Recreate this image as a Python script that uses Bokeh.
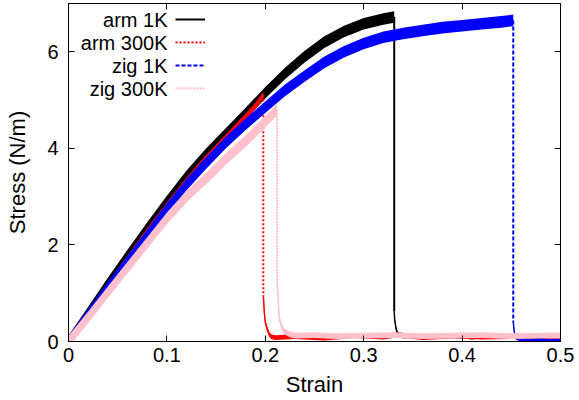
from bokeh.plotting import figure
from bokeh.models import (Range1d, LinearAxis, FixedTicker, CustomJSTickFormatter,
                          Legend, LegendItem, Label)
from bokeh.embed import file_html
from bokeh.resources import INLINE

# ---------------- data ----------------
x_ticks = [0, 0.1, 0.2, 0.3, 0.4, 0.5]
y_ticks = [0, 2, 4, 6]

# arm 1K
arm1k_load_strain = [0.0, 0.01, 0.02, 0.04, 0.06, 0.08, 0.10, 0.12, 0.14, 0.16, 0.18,
                     0.20, 0.22, 0.24, 0.26, 0.28, 0.30, 0.32, 0.331]
arm1k_load_stress = [0.0, 0.3, 0.6, 1.2, 1.78, 2.35, 2.9, 3.42, 3.88, 4.3, 4.72,
                     5.15, 5.55, 5.9, 6.2, 6.42, 6.58, 6.68, 6.72]
arm1k_tail_strain = [0.331, 0.3315, 0.333, 0.335, 0.34, 0.35, 0.36, 0.37, 0.38, 0.39, 0.40,
                     0.41, 0.42, 0.43, 0.44, 0.45, 0.46, 0.47, 0.48, 0.49, 0.50]
arm1k_tail_stress = [0.62, 0.45, 0.25, 0.15, 0.10, 0.12, 0.08, 0.11, 0.09, 0.12, 0.10,
                     0.08, 0.11, 0.10, 0.09, 0.12, 0.08, 0.10, 0.11, 0.09, 0.10]

# arm 300K
arm300_load_strain = [0.0, 0.02, 0.04, 0.06, 0.08, 0.10, 0.12, 0.14, 0.16, 0.18, 0.19, 0.198]
arm300_load_stress = [0.0, 0.58, 1.16, 1.72, 2.28, 2.82, 3.33, 3.80, 4.22, 4.65, 4.88, 5.10]
arm300_tail_strain = [0.198, 0.199, 0.200, 0.202, 0.204, 0.206, 0.21, 0.23, 0.26, 0.29,
                      0.32, 0.335, 0.36, 0.39, 0.42, 0.45, 0.48, 0.50]
arm300_tail_stress = [0.95, 0.60, 0.40, 0.25, 0.15, 0.10, 0.08, 0.10, 0.07, 0.12,
                      0.09, 0.14, 0.08, 0.11, 0.09, 0.10, 0.08, 0.09]

# zig 1K
zig1k_load_strain = [0.0, 0.02, 0.04, 0.06, 0.08, 0.10, 0.12, 0.14, 0.16, 0.18, 0.20, 0.22,
                     0.24, 0.26, 0.28, 0.30, 0.32, 0.34, 0.36, 0.38, 0.40, 0.42, 0.44, 0.452]
zig1k_load_stress = [0.0, 0.56, 1.12, 1.66, 2.2, 2.75, 3.25, 3.7, 4.12, 4.5, 4.85, 5.2,
                     5.5, 5.78, 6.0, 6.17, 6.3, 6.38, 6.44, 6.5, 6.54, 6.58, 6.62, 6.65]
zig1k_tail_strain = [0.452, 0.453, 0.455, 0.46, 0.47, 0.48, 0.49, 0.50]
zig1k_tail_stress = [0.40, 0.20, 0.06, 0.03, 0.02, 0.04, 0.02, 0.03]

# zig 300K
zig300_load_strain = [0.0, 0.02, 0.04, 0.06, 0.08, 0.10, 0.12, 0.14, 0.16, 0.18, 0.20, 0.212]
zig300_load_stress = [0.0, 0.5, 1.02, 1.53, 2.04, 2.55, 3.0, 3.38, 3.78, 4.15, 4.55, 4.80]
zig300_tail_strain = [0.212, 0.213, 0.214, 0.216, 0.218, 0.22, 0.225, 0.23, 0.25, 0.27,
                      0.30, 0.33, 0.36, 0.39, 0.42, 0.45, 0.48, 0.50]
zig300_tail_stress = [1.25, 0.90, 0.50, 0.35, 0.25, 0.20, 0.15, 0.12, 0.13, 0.11,
                      0.12, 0.13, 0.11, 0.12, 0.13, 0.11, 0.12, 0.12]

# half-width of the thermal-noise band of each series (stress units)
noise_load = [0.12, 0.07, 0.12, 0.12]
noise_tail = [0.04, 0.05, 0.03, 0.06]

series_names = ["arm 1K", "arm 300K", "zig 1K", "zig 300K"]
series_colors = ["black", "red", "blue", "pink"]
series_dashes = ["solid", "2 2", "4 2", "2 1"]

series_data = [
    (arm1k_load_strain, arm1k_load_stress, arm1k_tail_strain, arm1k_tail_stress),
    (arm300_load_strain, arm300_load_stress, arm300_tail_strain, arm300_tail_stress),
    (zig1k_load_strain, zig1k_load_stress, zig1k_tail_strain, zig1k_tail_stress),
    (zig300_load_strain, zig300_load_stress, zig300_tail_strain, zig300_tail_stress),
]

FONT = "Liberation Sans"

p = figure(width=576, height=399, x_range=Range1d(0, 0.5), y_range=Range1d(0, 7),
           output_backend="svg", toolbar_location=None,
           min_border_left=68, min_border_right=16, min_border_top=3, min_border_bottom=0)
p.xgrid.visible = False
p.ygrid.visible = False
p.outline_line_color = "black"
p.outline_line_width = 1
p.background_fill_color = "white"
p.border_fill_color = "white"

drop_renderers = []
for (lx, ly, tx, ty), col, dash, nl, nt in zip(series_data, series_colors, series_dashes,
                                              noise_load, noise_tail):
    p.varea(x=lx, y1=[v - nl for v in ly], y2=[v + nl for v in ly], fill_color=col)
    p.line(lx, ly, line_color=col, line_width=2)
    r = p.line([lx[-1], tx[0]], [ly[-1], ty[0]], line_color=col, line_width=2, line_dash=dash)
    p.varea(x=tx, y1=[v - nt for v in ty], y2=[v + nt for v in ty], fill_color=col)
    p.line(tx, ty, line_color=col, line_width=1.5)
    drop_renderers.append(r)

# bottom / left axes
for ax in (p.xaxis[0], p.yaxis[0]):
    ax.major_tick_in = 6
    ax.major_tick_out = 0
    ax.minor_tick_line_color = None
    ax.axis_line_color = "black"
    ax.major_tick_line_color = "black"
    ax.major_label_text_font = FONT
    ax.major_label_text_font_size = "20px"
    ax.major_label_text_color = "black"
    ax.axis_label_text_font = FONT
    ax.axis_label_text_font_size = "22px"
    ax.axis_label_text_font_style = "normal"
    ax.axis_label_text_color = "black"

p.xaxis.ticker = FixedTicker(ticks=x_ticks)
p.yaxis.ticker = FixedTicker(ticks=y_ticks)
p.xaxis.axis_label = "Strain"
p.yaxis.axis_label = "Stress (N/m)"
p.xaxis.major_label_standoff = 6
p.xaxis.axis_label_standoff = 7
p.yaxis.major_label_standoff = 10
p.yaxis.axis_label_standoff = 14

# mirrored ticks (top / right)
blank = CustomJSTickFormatter(code="return ''")
top_ax = LinearAxis(ticker=FixedTicker(ticks=x_ticks), formatter=blank,
                    major_tick_in=6, major_tick_out=0, minor_tick_line_color=None,
                    major_label_standoff=0, major_label_text_font_size="1px")
right_ax = LinearAxis(ticker=FixedTicker(ticks=y_ticks), formatter=blank,
                      major_tick_in=6, major_tick_out=0, minor_tick_line_color=None,
                      major_label_standoff=0, major_label_text_font_size="1px")
p.add_layout(top_ax, "above")
p.add_layout(right_ax, "right")

# gnuplot-style key: text right-aligned, sample on the right
FH = 337          # approx frame height (px)
row_h, row_gap, top_off = 20, 3, 5
leg_h = 4 * row_h + 3 * row_gap
legend = Legend(items=[LegendItem(label=" ", renderers=[r]) for r in drop_renderers],
                location=(107, FH - top_off - leg_h), glyph_width=30, glyph_height=row_h,
                label_height=row_h, label_width=0, label_standoff=0, spacing=row_gap,
                padding=0, margin=0, border_line_color=None, background_fill_alpha=0,
                label_text_font_size="6px")
p.add_layout(legend)
for i, name in enumerate(series_names):
    yc = FH - top_off - row_h / 2 - i * (row_h + row_gap)
    p.add_layout(Label(x=99, y=yc, x_units="screen", y_units="screen", text=name,
                       text_align="right", text_baseline="middle",
                       text_font=FONT, text_font_size="20px", text_color="black"))

open("out.html", "w").write(file_html(p, INLINE))
